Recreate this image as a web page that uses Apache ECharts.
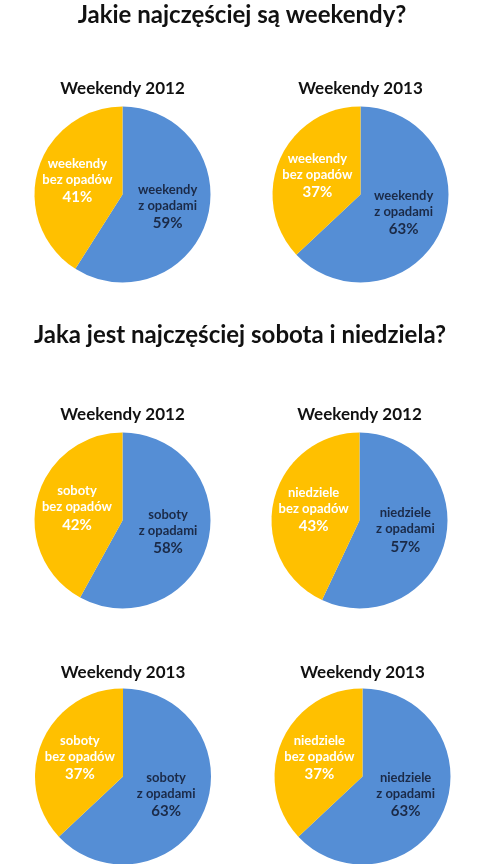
<!DOCTYPE html>
<html>
<head>
<meta charset="utf-8">
<script src="https://cdn.jsdelivr.net/npm/echarts@6/dist/echarts.min.js"></script>
<style>
  html, body { margin: 0; padding: 0; background: #fff; }
  #main { width: 483px; height: 864px; }
</style>
</head>
<body>
<div id="main"></div>
<script>
// dane z obrazka
var headings = ["Jakie najczęściej są weekendy?", "Jaka jest najczęściej sobota i niedziela?"];
var pieTitles = ["Weekendy 2012", "Weekendy 2013", "Weekendy 2012", "Weekendy 2012", "Weekendy 2013", "Weekendy 2013"];
var rainyNames = ["weekendy\nz opadami", "weekendy\nz opadami", "soboty\nz opadami", "niedziele\nz opadami", "soboty\nz opadami", "niedziele\nz opadami"];
var dryNames = ["weekendy\nbez opadów", "weekendy\nbez opadów", "soboty\nbez opadów", "niedziele\nbez opadów", "soboty\nbez opadów", "niedziele\nbez opadów"];
var rainyValues = [59, 63, 58, 57, 63, 63];
var dryValues = [41, 37, 42, 43, 37, 37];

var FONT = "Lato, 'Open Sans', sans-serif";
var BLUE = "#558ed5", YELLOW = "#ffc000";

// rozmieszczenie wykresów
var centers = [[122.5, 194.5], [360.5, 194.5], [122.5, 520.5], [359.5, 520.5], [123, 776.5], [362.5, 776.5]];
var titleTops = [80, 80, 406, 406, 664, 664];
var radius = 88;

function labelFmt(p){
	var lines = p.name.split("\n").map(function(l){ return "{n|" + l + "}"; });
	return lines.join("\n") + "\n{p|" + p.value + "%}";
}

function labelRich(color){
	return {
		n: { fontFamily: FONT, fontWeight: "bold", fontSize: 13, color: color, lineHeight: 16 },
		p: { fontFamily: FONT, fontWeight: "bold", fontSize: 15, color: color, lineHeight: 19 }
	};
}

var titles = [
	{ text: headings[0], left: 242, top: 3, textAlign: "center", padding: 0,
	  textStyle: { fontFamily: FONT, fontWeight: "bold", fontSize: 24, color: "#111" } },
	{ text: headings[1], left: 240, top: 323, textAlign: "center", padding: 0,
	  textStyle: { fontFamily: FONT, fontWeight: "bold", fontSize: 24, color: "#111" } }
];
var series = [];

for (var i = 0; i < pieTitles.length; i++) {
	titles.push({
		text: pieTitles[i], left: centers[i][0], top: titleTops[i], textAlign: "center", padding: 0,
		textStyle: { fontFamily: FONT, fontWeight: "bold", fontSize: 17, color: "#111" }
	});
	series.push({
		type: "pie",
		center: centers[i],
		radius: radius,
		startAngle: 90,
		clockwise: true,
		silent: true,
		animation: false,
		labelLine: { show: false },
		itemStyle: { borderWidth: 0 },
		data: [
			{ name: rainyNames[i], value: rainyValues[i], itemStyle: { color: BLUE },
			  label: { show: true, position: "inside", formatter: labelFmt, rich: labelRich("#1b2a47") } },
			{ name: dryNames[i], value: dryValues[i], itemStyle: { color: YELLOW },
			  label: { show: true, position: "inside", formatter: labelFmt, rich: labelRich("#ffffff") } }
		]
	});
}

var chart = echarts.init(document.getElementById("main"));
chart.setOption({
	backgroundColor: "#fff",
	title: titles,
	series: series
});
</script>
</body>
</html>
